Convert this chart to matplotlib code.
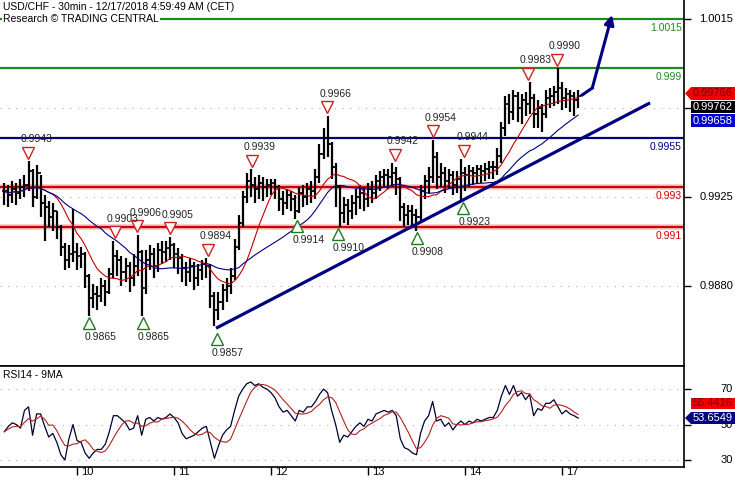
import matplotlib
matplotlib.use("Agg")
import matplotlib.pyplot as plt
import matplotlib.transforms as mtransforms
from matplotlib.patches import Polygon
import numpy as np
import pandas as pd

plt.rcParams["font.family"] = ["Liberation Sans", "DejaVu Sans"]

# hourly bars, hour 0 = Mon Dec 10 00:00 (weekend removed, Dec 17 starts at hour 120)
hours = list(range(-18, 125))
closes = [
    0.9928, 0.9926, 0.9929, 0.9927, 0.9930, 0.9931, 0.9938, 0.9925, 0.9937, 0.9922, 0.9920, 0.9915,
    0.9918, 0.9910, 0.9900, 0.9893, 0.9896, 0.9897, 0.9895, 0.9896, 0.9885, 0.9874, 0.9876, 0.9875,
    0.9880, 0.9877, 0.9886, 0.9895, 0.9893, 0.9887, 0.9890, 0.9884, 0.9890, 0.9897, 0.9879, 0.9893,
    0.9896, 0.9890, 0.9898, 0.9897, 0.9899, 0.9901, 0.9896, 0.9894, 0.9889, 0.9887, 0.9890, 0.9884,
    0.9888, 0.9891, 0.9890, 0.9875, 0.9868, 0.9872, 0.9878, 0.9880, 0.9885, 0.9900, 0.9912, 0.9925,
    0.9933, 0.9931, 0.9929, 0.9932, 0.9930, 0.9931, 0.9932, 0.9930, 0.9924, 0.9922, 0.9926, 0.9924,
    0.9918, 0.9927, 0.9925, 0.9929, 0.9928, 0.9935, 0.9947, 0.9955, 0.9952, 0.9940, 0.9930, 0.9917,
    0.9921, 0.9918, 0.9922, 0.9925, 0.9927, 0.9924, 0.9929, 0.9927, 0.9933, 0.9935, 0.9936, 0.9935,
    0.9937, 0.9934, 0.9920, 0.9916, 0.9918, 0.9916, 0.9915, 0.9928, 0.9933, 0.9935, 0.9945, 0.9935,
    0.9937, 0.9933, 0.9936, 0.9931, 0.9934, 0.9937, 0.9936, 0.9938, 0.9937, 0.9939, 0.9938, 0.9939,
    0.9940, 0.9940, 0.9946, 0.9960, 0.9972, 0.9968, 0.9976, 0.9970, 0.9974, 0.9972, 0.9975, 0.9967,
    0.9970, 0.9967, 0.9975, 0.9976, 0.9978, 0.9980, 0.9975, 0.9977, 0.9976, 0.9974, 0.99762,
]
highs = [
    0.9932, 0.9931, 0.9933, 0.9932, 0.9934, 0.9936, 0.9943, 0.9939, 0.9941, 0.9936, 0.9926, 0.9923,
    0.9922, 0.9918, 0.9911, 0.9902, 0.9901, 0.9919, 0.9902, 0.9900, 0.9897, 0.9886, 0.9881, 0.9880,
    0.9884, 0.9883, 0.9889, 0.9903, 0.9898, 0.9895, 0.9894, 0.9892, 0.9896, 0.9906, 0.9898, 0.9898,
    0.9901, 0.9899, 0.9902, 0.9903, 0.9903, 0.9905, 0.9902, 0.9899, 0.9896, 0.9892, 0.9894, 0.9892,
    0.9891, 0.9893, 0.9894, 0.9891, 0.9877, 0.9877, 0.9881, 0.9884, 0.9889, 0.9904, 0.9916, 0.9928,
    0.9937, 0.9939, 0.9935, 0.9936, 0.9935, 0.9934, 0.9934, 0.9934, 0.9931, 0.9928, 0.9929, 0.9928,
    0.9926, 0.9930, 0.9931, 0.9932, 0.9933, 0.9939, 0.9952, 0.9960, 0.9966, 0.9953, 0.9942, 0.9931,
    0.9925, 0.9924, 0.9926, 0.9929, 0.9931, 0.9930, 0.9932, 0.9933, 0.9936, 0.9938, 0.9939, 0.9939,
    0.9942, 0.9940, 0.9935, 0.9922, 0.9921, 0.9921, 0.9919, 0.9931, 0.9936, 0.9940, 0.9954, 0.9948,
    0.9942, 0.9940, 0.9939, 0.9938, 0.9938, 0.9944, 0.9940, 0.9941, 0.9940, 0.9941, 0.9941, 0.9942,
    0.9943, 0.9943, 0.9950, 0.9963, 0.9976, 0.9977, 0.9979, 0.9978, 0.9977, 0.9978, 0.9983, 0.9977,
    0.9974, 0.9972, 0.9979, 0.9980, 0.9981, 0.9990, 0.9983, 0.9980, 0.9979, 0.9978, 0.9979,
]
lows = [
    0.9921, 0.9920, 0.9922, 0.9921, 0.9924, 0.9925, 0.9928, 0.9920, 0.9924, 0.9915, 0.9903, 0.9910,
    0.9908, 0.9904, 0.9895, 0.9888, 0.9889, 0.9892, 0.9888, 0.9889, 0.9879, 0.9865, 0.9869, 0.9868,
    0.9872, 0.9870, 0.9876, 0.9884, 0.9885, 0.9880, 0.9882, 0.9877, 0.9880, 0.9885, 0.9865, 0.9876,
    0.9888, 0.9884, 0.9887, 0.9891, 0.9892, 0.9893, 0.9889, 0.9886, 0.9882, 0.9880, 0.9882, 0.9878,
    0.9880, 0.9883, 0.9884, 0.9869, 0.9860, 0.9863, 0.9868, 0.9872, 0.9876, 0.9883, 0.9898, 0.9910,
    0.9922, 0.9925, 0.9922, 0.9924, 0.9923, 0.9925, 0.9926, 0.9924, 0.9918, 0.9916, 0.9919, 0.9918,
    0.9914, 0.9917, 0.9920, 0.9921, 0.9922, 0.9924, 0.9932, 0.9944, 0.9945, 0.9934, 0.9920, 0.9910,
    0.9912, 0.9911, 0.9914, 0.9916, 0.9919, 0.9918, 0.9920, 0.9922, 0.9924, 0.9928, 0.9930, 0.9929,
    0.9930, 0.9926, 0.9913, 0.9910, 0.9911, 0.9910, 0.9908, 0.9912, 0.9924, 0.9927, 0.9932, 0.9929,
    0.9930, 0.9927, 0.9929, 0.9926, 0.9927, 0.9923, 0.9928, 0.9930, 0.9931, 0.9932, 0.9932, 0.9933,
    0.9934, 0.9934, 0.9936, 0.9942, 0.9956, 0.9962, 0.9964, 0.9963, 0.9962, 0.9966, 0.9967, 0.9960,
    0.9960, 0.9958, 0.9965, 0.9970, 0.9971, 0.9972, 0.9969, 0.9970, 0.9968, 0.9966, 0.9970,
]
# RSI14, same hourly positions
rsi_values = [
    46, 49, 51, 50, 48, 58, 60, 44, 56, 56, 49, 43,
    45, 40, 33, 30, 42, 50, 41, 40, 34, 31, 34, 36,
    36, 39, 46, 55, 55, 53, 51, 47, 48, 55, 44, 53,
    54, 52, 54, 53, 54, 56, 54, 51, 45, 42, 43, 44,
    46, 48, 49, 40, 31, 38, 44, 47, 49, 58, 66, 70,
    73, 74, 72, 73, 71, 70, 68, 65, 60, 57, 58, 55,
    52, 58, 57, 60, 60, 63, 67, 70, 68, 58, 50, 40,
    44, 43, 46, 49, 51, 49, 53, 52, 56, 57, 58, 57,
    58, 55, 42, 37, 36, 34, 33, 45, 52, 55, 63, 52,
    53, 49, 51, 47, 50, 52, 50, 52, 51, 53, 52, 53,
    54, 54, 58, 66, 72, 67, 72, 66, 68, 64, 67, 55,
    59, 58, 62, 62, 64, 60, 56, 58, 56, 55, 53.65,
]

day_ticks = [0, 24, 48, 72, 96, 120]
day_labels = ["10", "11", "12", "13", "14", "17"]

price_ticks = [1.0015, 0.9970, 0.9925, 0.9880]
price_tick_labels = ["1.0015", "", "0.9925", "0.9880"]
rsi_ticks = [70, 50, 30]

levels = [1.0015, 0.999, 0.9955, 0.993, 0.991]
level_labels = ["1.0015", "0.999", "0.9955", "0.993", "0.991"]
level_colors = ["#1f8a1f", "#1f8a1f", "#000080", "#d00000", "#d00000"]

swing_high_x = [-12.1, 9.4, 14.9, 23.0, 32.4, 43.3, 61.9, 78.7, 88.1, 95.8, 111.6, 118.8]
swing_high_val = [0.9943, 0.9903, 0.9906, 0.9905, 0.9894, 0.9939, 0.9966, 0.9942, 0.9954, 0.9944, 0.9983, 0.9990]
swing_low_x = [3.0, 16.3, 34.6, 54.5, 64.6, 84.1, 95.6]
swing_low_val = [0.9865, 0.9865, 0.9857, 0.9914, 0.9910, 0.9908, 0.9923]

trend_x = [34.4, 141.8]
trend_y = [0.98587, 0.99726]
forecast_x = [125.0, 127.5, 132.4]
forecast_y = [0.99766, 0.99801, 1.00171]

W, H = 735, 480
fig = plt.figure(figsize=(W / 100, H / 100), dpi=100)
ax = fig.add_axes([0, 1 - 366 / H, 684 / W, 366 / H])
rsi_ax = fig.add_axes([0, 1 - 467 / H, 684 / W, 101 / H])

xlim = (-19.06, 150.2)
navy = "#000080"

# --- price panel ---
ax.set_xlim(*xlim)
ax.set_ylim(0.98396, 1.00246)
for y in price_ticks:
    ax.axhline(y, color="#b0b0b0", lw=0.8, ls=(0, (1, 6)), zorder=0)

for lvl, lab, col in zip(levels, level_labels, level_colors):
    if col == "#d00000":
        ax.axhline(lvl, color="#f6c4c4", lw=4, zorder=1)
    ax.axhline(lvl, color=col, lw=1.6, zorder=2)
    ax.annotate(lab, (1, lvl), xycoords=("axes fraction", "data"),
                xytext=(-2, -9), textcoords="offset pixels",
                ha="right", va="center", fontsize=7.5, color=col)

h = np.array(hours)
opens = [closes[0]] + closes[:-1]
ax.vlines(h, lows, highs, color="black", lw=1.6, zorder=3)
ax.hlines(opens, h - 0.6, h, color="black", lw=1.2, zorder=3)
ax.hlines(closes, h, h + 0.6, color="black", lw=1.2, zorder=3)

s = pd.Series(closes, index=h)
ma_fast = s.rolling(10, min_periods=1).mean()
ma_slow = s.rolling(25, min_periods=1).mean()
ax.plot(h, ma_fast, color="#c00000", lw=0.8, zorder=4)
ax.plot(h, ma_slow, color=navy, lw=0.8, zorder=4)

ax.plot(trend_x, trend_y, color=navy, lw=2.3, solid_capstyle="butt", zorder=5)
ax.plot(forecast_x[:2], forecast_y[:2], color=navy, lw=2.2, zorder=5)
ax.annotate("", xy=(forecast_x[2], forecast_y[2]), xytext=(forecast_x[1], forecast_y[1]),
            arrowprops=dict(arrowstyle="-|>", color=navy, lw=2.2, mutation_scale=14,
                            shrinkA=0, shrinkB=0), zorder=5)

up_tri = mtransforms.offset_copy(ax.transData, fig=fig, x=0, y=8.5, units="dots")
dn_tri = mtransforms.offset_copy(ax.transData, fig=fig, x=0, y=-7, units="dots")
ax.plot(swing_high_x, swing_high_val, "v", ms=8, mfc="white", mec="#d02020", mew=1,
        transform=up_tri, zorder=6)
ax.plot(swing_low_x, swing_low_val, "^", ms=8, mfc="white", mec="#207a20", mew=1,
        transform=dn_tri, zorder=6)
for x, v in zip(swing_high_x, swing_high_val):
    ax.annotate(f"{v:.4f}", (x, v), xytext=(8, 22), textcoords="offset pixels",
                ha="center", va="center", fontsize=7.5, color="#222222", zorder=7)
for x, v in zip(swing_low_x, swing_low_val):
    ax.annotate(f"{v:.4f}", (x, v), xytext=(11, -21), textcoords="offset pixels",
                ha="center", va="center", fontsize=7.5, color="#222222", zorder=7)

ax.set_xticks([])
ax.yaxis.tick_right()
ax.set_yticks(price_ticks)
ax.set_yticklabels([])
ax.tick_params(axis="y", direction="out", length=5, width=1, color="black")
for side in ["left", "top"]:
    ax.spines[side].set_visible(False)
for side in ["right", "bottom"]:
    ax.spines[side].set_linewidth(1.2)

label_tf = mtransforms.blended_transform_factory(fig.transFigure, ax.transData)
for y, lab in zip(price_ticks, price_tick_labels):
    ax.text(733 / W, y, lab, transform=label_tf, ha="right", va="center",
            fontsize=8, clip_on=False)

# --- RSI panel ---
rsi = pd.Series(rsi_values, index=h)
rsi_ma = rsi.rolling(5, min_periods=1).mean()

rsi_ax.set_xlim(*xlim)
rsi_ax.set_ylim(26.1, 83.0)
for y in rsi_ticks:
    rsi_ax.axhline(y, color="#b0b0b0", lw=0.8, ls=(0, (1, 6)), zorder=0)
rsi_ax.plot(h, rsi, color="#000033", lw=0.9)
rsi_ax.plot(h, rsi_ma, color="#b22222", lw=0.8)
rsi_ax.text(0.004, 0.91, "RSI14 - 9MA", transform=rsi_ax.transAxes,
            ha="left", va="center", fontsize=7.5)

rsi_ax.yaxis.tick_right()
rsi_ax.set_yticks(rsi_ticks)
rsi_ax.set_yticklabels([])
rsi_ax.tick_params(axis="y", direction="out", length=5, width=1)
rsi_tf = mtransforms.blended_transform_factory(fig.transFigure, rsi_ax.transData)
for y in rsi_ticks:
    rsi_ax.text(733 / W, y, str(y), transform=rsi_tf, ha="right", va="center",
                fontsize=8, clip_on=False)

rsi_ax.set_xticks(day_ticks)
rsi_ax.set_xticklabels(day_labels, fontsize=8, ha="left", va="top")
rsi_ax.tick_params(axis="x", direction="out", length=6, width=1, pad=-6)
shift = mtransforms.ScaledTranslation(4 / 100, 0, fig.dpi_scale_trans)
for lab in rsi_ax.get_xticklabels():
    lab.set_transform(lab.get_transform() + shift)
rsi_ax.spines["left"].set_visible(False)
for side in ["right", "bottom", "top"]:
    rsi_ax.spines[side].set_linewidth(1.2)


# --- value boxes on the right ---
def value_box(y_top, y_bot, text, face, tcolor, arrow=False):
    x0 = 691
    pts = [(x0, y_top), (W, y_top), (W, y_bot), (x0, y_bot)]
    if arrow:
        pts.append((x0 - 6, (y_top + y_bot) / 2))
    poly = Polygon([(x / W, 1 - y / H) for x, y in pts], closed=True,
                   transform=fig.transFigure, facecolor=face, edgecolor="none")
    fig.patches.append(poly)
    fig.text((x0 + W) / 2 / W, 1 - (y_top + y_bot) / 2 / H, text, ha="center",
             va="center", fontsize=8, color=tcolor)


value_box(87, 100, "0.99766", "#ee0000", "#7a0000", arrow=True)
value_box(101, 113, "0.99762", "black", "white")
value_box(114, 127, "0.99658", "#0000cc", "white")
value_box(398, 409, "55.4416", "#ee0000", "#7a0000")
value_box(412, 424, "53.6549", navy, "white", arrow=True)

# --- header ---
fig.text(3 / W, 1 - 7 / H, "USD/CHF - 30min - 12/17/2018 4:59:49 AM (CET)",
         ha="left", va="center", fontsize=7.5)
fig.text(3 / W, 1 - 19 / H, "Research \u00a9 TRADING CENTRAL", ha="left", va="center",
         fontsize=7.5, bbox=dict(facecolor="white", edgecolor="none", pad=1))

fig.savefig("out.png", dpi=100)
